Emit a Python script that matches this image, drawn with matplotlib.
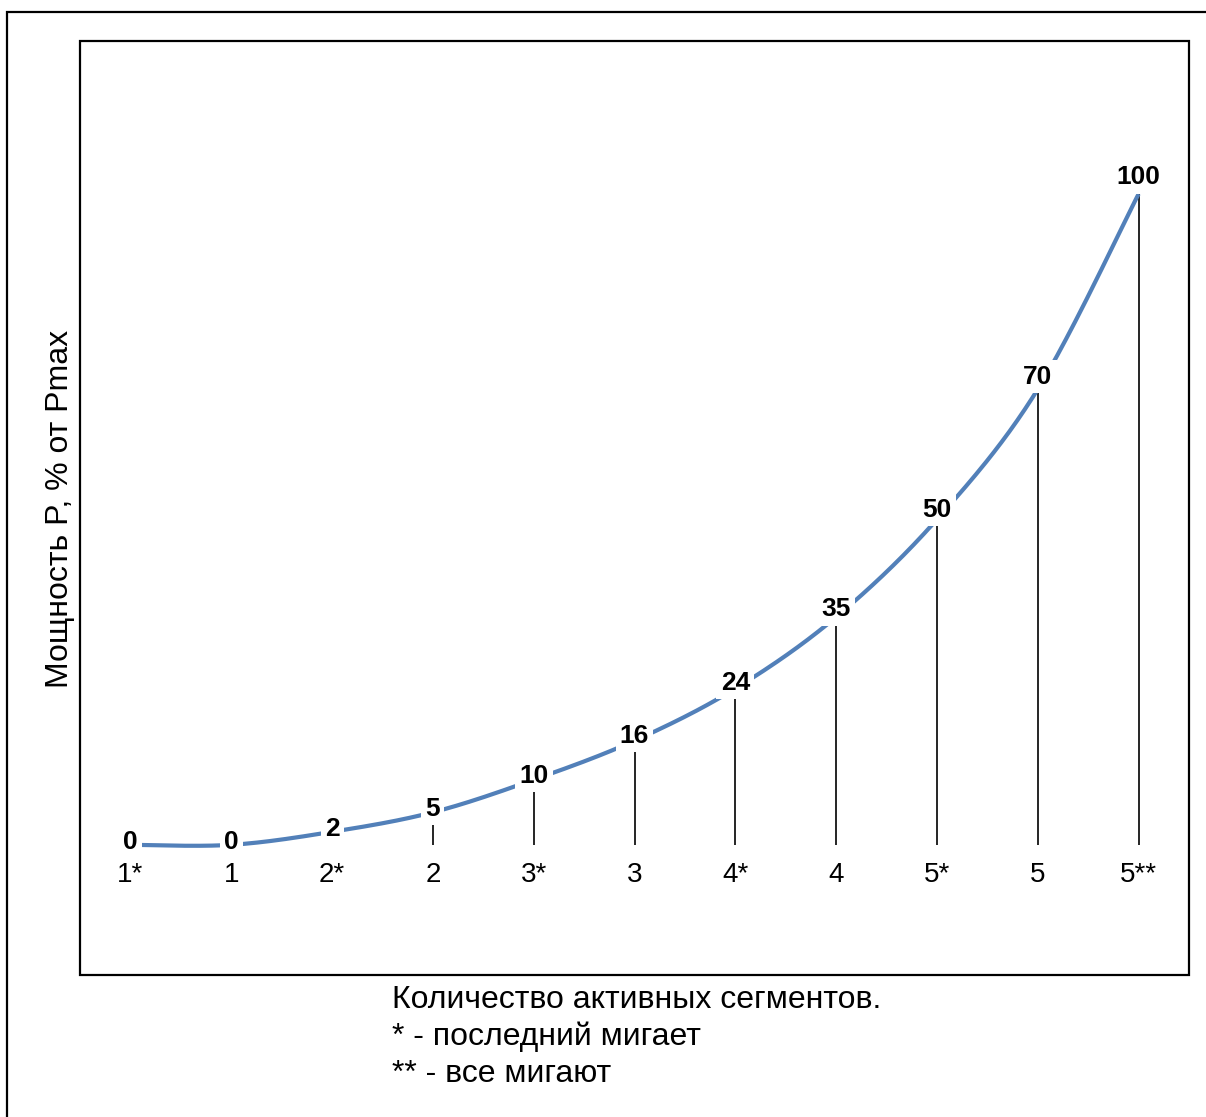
import numpy as np
import matplotlib.pyplot as plt
from matplotlib.patches import Rectangle

plt.rcParams['font.family'] = ['Liberation Sans', 'DejaVu Sans']

categories = ['1*', '1', '2*', '2', '3*', '3', '4*', '4', '5*', '5', '5**']
power = [0, 0, 2, 5, 10, 16, 24, 35, 50, 70, 100]

ylabel = 'Мощность P, % от Pmax'
xlabel_lines = ['Количество активных сегментов.',
                '* - последний мигает',
                '** - все мигают']

W, H = 1206, 1117
fig = plt.figure(figsize=(W/100, H/100), dpi=100)
ax = fig.add_axes([80/W, 1-975/H, (1189-80)/W, (975-41)/H])

x = np.arange(len(power), dtype=float)
y = np.array(power, dtype=float)

# excel-like smoothed line (catmull-rom bezier)
def smooth(xs, ys, n=40):
    px, py = [], []
    m = len(xs)
    for i in range(m-1):
        i0, i3 = max(i-1, 0), min(i+2, m-1)
        p0 = np.array([xs[i], ys[i]])
        p3 = np.array([xs[i+1], ys[i+1]])
        c1 = p0 + (np.array([xs[i+1], ys[i+1]]) - np.array([xs[i0], ys[i0]]))/6
        c2 = p3 - (np.array([xs[i3], ys[i3]]) - np.array([xs[i], ys[i]]))/6
        t = np.linspace(0, 1, n)[:, None]
        b = (1-t)**3*p0 + 3*(1-t)**2*t*c1 + 3*(1-t)*t**2*c2 + t**3*p3
        px.extend(b[:, 0]); py.extend(b[:, 1])
    return np.array(px), np.array(py)

sx, sy = smooth(x, y)
ax.plot(sx, sy, color='#5280B9', lw=3, solid_capstyle='butt', zorder=3)
ax.vlines(x, 0, y, color='black', lw=1.2, zorder=2)

for xi, v in zip(x, power):
    ax.annotate(str(v), (xi, v), xytext=(0, 2 + 0.1*v), textcoords='offset points',
                ha='center', va='center', fontsize=19, fontweight='bold',
                bbox=dict(boxstyle='square,pad=0.16', fc='white', ec='none'), zorder=4)

ax.set_xlim(-0.5, len(power)-0.5)
ax.set_ylim(-20, 123.5)
ax.set_xticks(x, categories)
ax.set_yticks([])
ax.spines['bottom'].set_position(('data', 0))
for s in ax.spines.values():
    s.set_visible(False)
ax.tick_params(axis='x', length=0, pad=12.5, labelsize=20)
ax.add_patch(Rectangle((0, 0), 1, 1, transform=ax.transAxes, fill=False,
                       ec='black', lw=1.6, clip_on=False, zorder=5))

fig.text(60/W, 1-509/H, ylabel, rotation=90, ha='center', va='center', fontsize=23)
for i, line in enumerate(xlabel_lines):
    fig.text(392/W, 1-(1000 + 37*i)/H, line, ha='left', va='center', fontsize=23)

fig.patches.append(Rectangle((7/W, -0.2), 1.5, 1.2 - 12/H, transform=fig.transFigure,
                             fill=False, ec='black', lw=1.6))

fig.savefig('out.png', dpi=100)
